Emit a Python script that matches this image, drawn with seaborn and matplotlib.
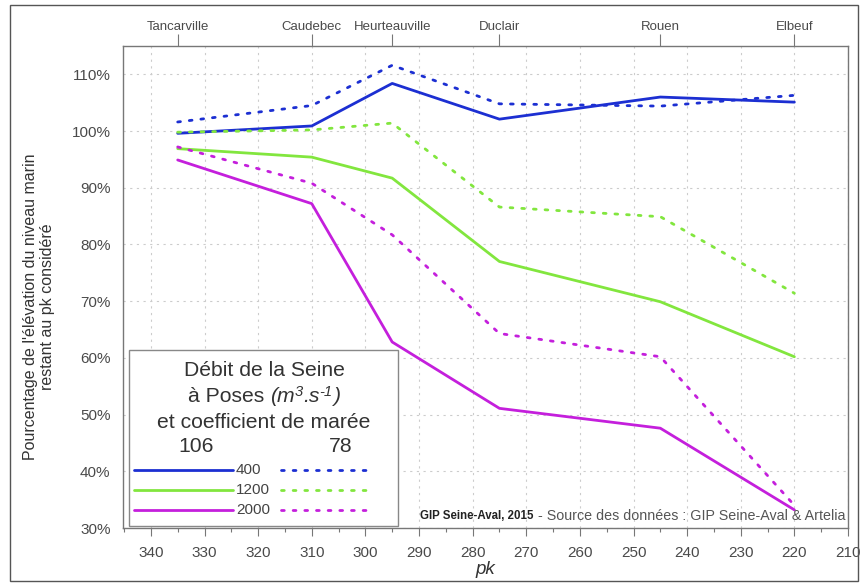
import numpy as np
import pandas as pd
import matplotlib
matplotlib.use("Agg")
import matplotlib.pyplot as plt
from matplotlib.lines import Line2D
from matplotlib.patches import Rectangle
import seaborn as sns

# ---------------- data ----------------
pk = [335, 310, 295, 275, 245, 220]
debit_400_106 = [99.6, 100.9, 108.4, 102.1, 106.0, 105.1]
debit_400_78 = [101.6, 104.5, 111.6, 104.8, 104.4, 106.3]
debit_1200_106 = [96.9, 95.4, 91.7, 77.0, 69.9, 60.2]
debit_1200_78 = [99.8, 100.2, 101.4, 86.6, 84.9, 71.4]
debit_2000_106 = [94.9, 87.2, 62.8, 51.1, 47.6, 33.2]
debit_2000_78 = [97.2, 90.8, 81.7, 64.3, 60.2, 34.0]

debits = ["400", "1200", "2000"]
coefs = ["106", "78"]
cities = ["Tancarville", "Caudebec", "Heurteauville", "Duclair", "Rouen", "Elbeuf"]
city_pk = [335, 310, 295, 275, 245, 220]
x_ticks = list(range(340, 209, -10))
y_ticks = list(range(30, 111, 10))

series = {
    ("400", "106"): debit_400_106, ("400", "78"): debit_400_78,
    ("1200", "106"): debit_1200_106, ("1200", "78"): debit_1200_78,
    ("2000", "106"): debit_2000_106, ("2000", "78"): debit_2000_78,
}
rows = []
for (d, c), vals in series.items():
    for p, v in zip(pk, vals):
        rows.append({"pk": p, "val": v, "debit": d, "coef": c})
df = pd.DataFrame(rows)

colors = {"400": "#1c2fd2", "1200": "#82e63e", "2000": "#c41fdc"}
dot = (1, 3.2)

# ---------------- figure ----------------
sns.set_style("white")
plt.rcParams["font.family"] = ["Liberation Sans", "DejaVu Sans"]

fig = plt.figure(figsize=(8.68, 5.86), dpi=100)
ax = fig.add_axes([123 / 868, 1 - 528 / 586, (848 - 123) / 868, (528 - 46) / 586])

# outer border
fig.patches.append(Rectangle((10 / 868, 5 / 586), (858 - 10) / 868, (581 - 5) / 586,
                             transform=fig.transFigure, fill=False, ec="#555555", lw=1.0))

sns.lineplot(data=df, x="pk", y="val", hue="debit", style="coef",
             palette=colors, hue_order=debits, style_order=coefs,
             dashes={"106": "", "78": dot}, linewidth=2.0, legend=False, ax=ax,
             sort=False, estimator=None)
for ln in ax.get_lines():
    ln.set_dash_capstyle("round")

ax.set_xlim(345.2, 210)
ax.set_ylim(30, 115)
ax.set_xticks(x_ticks)
ax.set_xticks(list(range(345, 209, -5)), minor=True)
ax.set_yticks(y_ticks)
ax.set_yticklabels([f"{v}%" for v in y_ticks])
ax.tick_params(axis="both", which="major", direction="out", length=6, width=0.8,
               color="#777777", labelcolor="#4a4a4a", labelsize=11)
ax.tick_params(axis="x", which="minor", direction="out", length=3, width=0.8, color="#777777")
ax.tick_params(axis="x", pad=7)
ax.tick_params(axis="y", pad=3)
ax.grid(True, which="major", linestyle=(0, (2, 4)), color="#cccccc", linewidth=0.8)
for s in ax.spines.values():
    s.set_color("#777777")
    s.set_linewidth(1.0)

ax.set_xlabel("pk", fontsize=13.5, style="italic", color="#333333", labelpad=1)
ax.set_ylabel("")
fig.text(39 / 868, 1 - 307 / 586,
         "Pourcentage de l'élévation du niveau marin\nrestant au pk considéré",
         rotation=90, ha="center", va="center", fontsize=11.5, color="#333333",
         linespacing=1.1)

# top axis with cities
top = ax.twiny()
top.set_xlim(ax.get_xlim())
top.set_xticks(city_pk)
top.set_xticklabels(cities)
top.tick_params(axis="x", direction="out", length=9, width=0.8, color="#777777",
                labelcolor="#4a4a4a", labelsize=9.5, pad=0)
for s in top.spines.values():
    s.set_visible(False)

fig.canvas.draw()
r = fig.canvas.get_renderer()
W, H = fig.bbox.width, fig.bbox.height

# source text
src_bold = "GIP Seine-Aval, 2015"
src_rest = " - Source des données : GIP Seine-Aval & Artelia"
t_rest = fig.text(845 / 868, 1 - 516 / 586, src_rest, ha="right",
                  va="center", fontsize=10.3, color="#555555")
bb = t_rest.get_window_extent(renderer=r)
fig.text(bb.x0 / W, 1 - 516 / 586, src_bold,
         ha="right", va="center", fontsize=8.3, color="#222222", fontweight="bold")

# legend box
fig.patches.append(Rectangle((129 / 868, 1 - 526 / 586), (398 - 129) / 868, (526 - 350) / 586,
                             transform=fig.transFigure, fill=True, fc="white",
                             ec="#888888", lw=1.0, zorder=5))
def fx(x):
    return x / 868
def fy(y):
    return 1 - y / 586

FS = 15.2
tkw = dict(ha="center", va="center", fontsize=FS, color="#333333", zorder=6)
fig.text(fx(264), fy(370), "Débit de la Seine", **tkw)
fig.text(fx(264), fy(423), "et coefficient de marée", **tkw)
fig.text(fx(196), fy(447), "106", **tkw)
fig.text(fx(341), fy(447), "78", **tkw)

# second title line built from pieces: à Poses (m3.s-1) with italic + superscripts
pieces = [("à Poses ", "normal", FS, 0), ("(m", "italic", FS, 0), ("3", "italic", FS * 0.7, 6),
          (".s", "italic", FS, 0), ("-1", "italic", FS * 0.7, 6), (")", "italic", FS, 0)]
widths = []
for txt, st, fs, _ in pieces:
    t = fig.text(0, 0, txt, fontsize=fs, style=st)
    widths.append(t.get_window_extent(renderer=r).width)
    t.remove()
total = sum(widths)
x0 = 264 - total / 2
base_y = 1 - 402 / 586
for (txt, st, fs, dy), w in zip(pieces, widths):
    fig.text(fx(x0), base_y + dy / H, txt, fontsize=fs, style=st, ha="left",
             va="baseline", color="#333333", zorder=6)
    x0 += w

for i, d in enumerate(debits):
    yy = fy(470 + 20 * i)
    fig.lines.append(Line2D([fx(134), fx(233)], [yy, yy], transform=fig.transFigure,
                            color=colors[d], lw=2.0, zorder=6))
    fig.lines.append(Line2D([fx(281), fx(374)], [yy, yy], transform=fig.transFigure,
                            color=colors[d], lw=2.0, linestyle=(0, dot),
                            dash_capstyle="round", zorder=6))
    fig.text(fx(236), yy, d, ha="left", va="center",
             fontsize=11, color="#444444", zorder=6)

fig.savefig("out.png", dpi=100)
